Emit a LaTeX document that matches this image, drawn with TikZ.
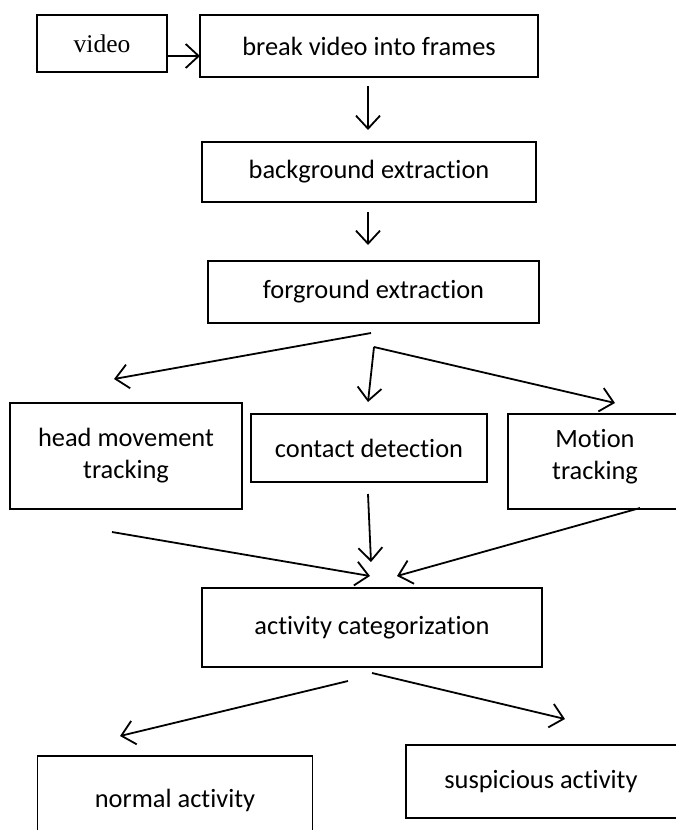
\documentclass[tikz,border=0pt]{standalone}
\usepackage{fontspec}
\setmainfont{Carlito}[Ligatures=NoCommon]
\newfontfamily\timesfont{Liberation Serif}
\usetikzlibrary{arrows.meta}
\begin{document}
\begin{tikzpicture}[x=1pt,y=-1pt,
  box/.style={draw, line width=1.8pt, inner sep=0pt, font=\fontsize{26.4}{32}\selectfont, align=center},
  txt/.style={inner sep=0pt, font=\fontsize{26.4}{32}\selectfont, align=center},
  arr/.style={line width=1.8pt, -{Straight Barb[length=13pt,width=24pt,line width=1.8pt]}}]
\useasboundingbox (0,0) rectangle (676,830);
\clip (0,0) rectangle (676,830);
% boxes
\node[box, minimum width=130pt, minimum height=57pt, font=\timesfont\fontsize{25.5}{30}\selectfont] (video) at (102,43.5) {video};
\node[box, minimum width=338pt, minimum height=62pt] (frames) at (369,46) {break video into frames};
\node[box, minimum width=334pt, minimum height=60pt] (bg) at (369,172) {background extraction};
\node[box, minimum width=331pt, minimum height=62pt] (fg) at (373.5,292) {forground extraction};
\node[box, minimum width=232pt, minimum height=106pt] (head) at (126,456) {head movement\\tracking};
\node[box, minimum width=236pt, minimum height=68pt] (contact) at (369,448) {contact detection};
\node[box, anchor=north west, minimum width=200pt, minimum height=95pt] (motion) at (507,413) {};
\node[txt] (motiontext) at (595,457) {Motion\\tracking};
\node[box, minimum width=340pt, minimum height=79pt] (act) at (372,627.5) {activity categorization};
\node[box, minimum width=275pt, minimum height=88pt] (normal) at (175,800) {normal activity};
\node[box, anchor=north west, minimum width=300pt, minimum height=73pt] (susp) at (405,744) {};
\node[txt] (susptext) at (541,782) {suspicious activity};
% connector end points
\coordinate (v1) at (167,56);  \coordinate (v2) at (200,56);
\coordinate (f1) at (368,86);  \coordinate (f2) at (368,130);
\coordinate (b1) at (368,212); \coordinate (b2) at (368,245);
\coordinate (g1) at (371,333); \coordinate (g2) at (114,379);
\coordinate (fork) at (374,347);
\coordinate (c2) at (368,402); \coordinate (m2) at (615,403);
\coordinate (h1) at (112,532); \coordinate (h2) at (370,576);
\coordinate (k1) at (368,494); \coordinate (k2) at (371,562);
\coordinate (t1) at (640,508); \coordinate (t2) at (397,576);
\coordinate (n1) at (348,681); \coordinate (n2) at (120,736);
\coordinate (s1) at (372,673); \coordinate (s2) at (565,719);
% connectors
\draw[arr] (v1) -- (v2);
\draw[arr] (f1) -- (f2);
\draw[arr] (b1) -- (b2);
\draw[arr] (g1) -- (g2);
\draw[arr] (fork) -- (c2);
\draw[arr] (fork) -- (m2);
\draw[arr] (h1) -- (h2);
\draw[arr] (k1) -- (k2);
\draw[arr] (t1) -- (t2);
\draw[arr] (n1) -- (n2);
\draw[arr] (s1) -- (s2);
\end{tikzpicture}
\end{document}
